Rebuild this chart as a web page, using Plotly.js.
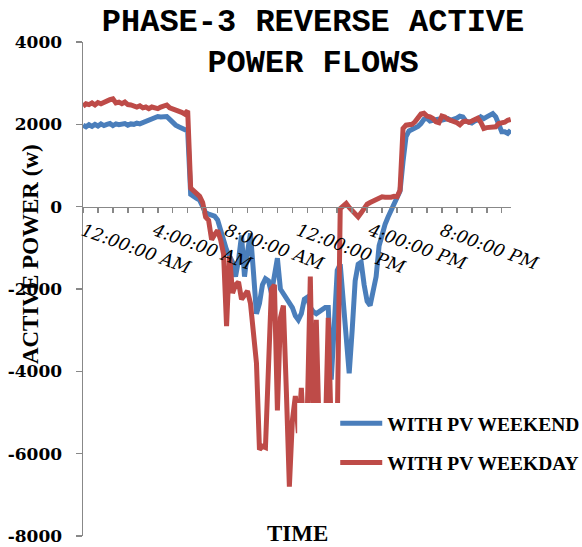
<!DOCTYPE html>
<html>
<head>
<meta charset="utf-8">
<script src="https://cdn.plot.ly/plotly-3.0.1.min.js"></script>
<style>html,body{margin:0;padding:0;background:#fff;}#chart{width:582px;height:547px;}</style>
</head>
<body>
<div id="chart"></div>
<script>
// time of day in hours, one sample every 10 minutes (144 samples)
const hours = Array.from({length: 144}, (_, i) => i / 6);

const tickHours = [0, 4, 8, 12, 16, 20];
const tickLabels = ["12:00:00 AM", "4:00:00 AM", "8:00:00 AM", "12:00:00 PM", "4:00:00 PM", "8:00:00 PM"];

const yTickVals = [-8000, -6000, -4000, -2000, 0, 2000, 4000];
const yTickText = ["-8000", "-6000", "-4000", "-2000", "0", "2000", "4000"];

const seriesNames = ["WITH PV WEEKEND", "WITH PV WEEKDAY"];

const weekend = [
  1980,1940,1990,1950,2000,1960,2010,1970,2000,2020,1970,2010,1990,2000,2020,1980,2010,2000,2030,2010,2040,2080,2100,2150,2190,2190,2180,2170,2190,2120,2030,1980,1940,1900,1880,1840,
  300,230,200,160,0,-150,-180,-200,
  -230,-320,-550,-850,-1050,-1200,-1350,-1700,-1300,-700,-1700,-1100,-650,-1600,-2600,-2350,-1900,-1750,-1800,-2100,-1700,-1250,
  -2000,-2100,-2200,-2300,-2450,-2650,-2750,-2600,-2250,-2200,-2450,-2550,-2600,-2550,-2500,-2450,-2450,
  -4200,-2900,-1550,-1400,-2200,-3300,-4050,-3000,-1800,-1400,-1350,-1900,-2300,-2400,-2100,-1700,-950,-650,-430,-250,-80,60,230,380,
  1100,1700,1840,1870,1920,1950,2020,2120,2150,2080,2100,2110,2130,2100,2110,2140,2100,2110,2150,2200,2180,2080,2040,2030,2080,2110,2180,2140,2180,2230,2260,2180,1950,1820,1820,1780,1860
];

const weekday = [
  2440,2500,2480,2520,2470,2530,2500,2540,2560,2600,2620,2520,2540,2500,2540,2480,2470,2440,2420,2450,2400,2420,2380,2420,2400,2380,2420,2440,2470,2400,2380,2350,2320,2290,2250,2330,
  450,380,330,250,100,
  -250,-330,-800,-680,-580,-800,-1150,-2900,-1200,-2100,-1900,-1830,-2250,-2150,-2050,-2350,-3000,-3800,-5900,-5820,-5850,-3900,-2000,-1900,-4950,-2700,-2400,-4500,-6800,
  -5200,-4600,-5500,-4400,-5800,-5000,-1700,-5600,-2750,-5600,-5300,-5600,-2700,-5500,-5500,-5400,
  -50,30,80,-20,-100,-200,-250,-150,-30,60,100,130,160,200,240,230,220,230,250,240,400,1900,1980,2000,2000,2060,2140,2250,2270,2200,2180,2140,2060,2040,2200,2180,2120,2100,2080,2040,1990,2060,2080,2050,2080,2120,2150,2050,1900,1920,1930,1960,1940,2020,2030,2050,2100,2120
];

const blue = "#4A7EBB";
const red = "#BE4B48";
const axisGray = "#888888";

const traces = [
  {x: hours, y: weekend, type: "scatter", mode: "lines", name: seriesNames[0],
   line: {color: blue, width: 5}, legendgroup: "a"},
  {x: hours, y: weekday, type: "scatter", mode: "lines", name: seriesNames[1],
   line: {color: red, width: 5}, legendgroup: "b"}
];

const layout = {
  width: 582, height: 547,
  margin: {l: 83, r: 71.4, t: 41.7, b: 11, pad: 0, autoexpand: false},
  paper_bgcolor: "#ffffff", plot_bgcolor: "#ffffff",
  showlegend: true,
  title: {
    text: "PHASE-3 REVERSE ACTIVE<br>POWER FLOWS",
    font: {family: "Liberation Mono, monospace", size: 32, color: "#000", weight: "bold"},
    x: 313 / 582, xref: "container", xanchor: "center",
    y: 0.944, yref: "container", yanchor: "top"
  },
  xaxis: {
    range: [0, 23.85],
    anchor: "free", position: 2 / 3,
    showline: true, linecolor: axisGray, linewidth: 1.5,
    showgrid: false, zeroline: false,
    tickmode: "array", tickvals: tickHours, ticktext: tickLabels,
    ticks: "outside", ticklen: 6, tickcolor: "rgba(0,0,0,0)",
    tickangle: 20,
    tickfont: {family: "DejaVu Serif", size: 17.5, color: "#000", style: "italic"},
    minor: {tickmode: "linear", tick0: 0, dtick: 5 / 6, ticks: "outside", ticklen: 5,
            tickcolor: axisGray, tickwidth: 1.5, showgrid: false}
  },
  yaxis: {
    range: [-8000, 4000],
    showline: true, linecolor: axisGray, linewidth: 1.5,
    showgrid: false, zeroline: false,
    tickmode: "array", tickvals: yTickVals, ticktext: yTickText,
    ticks: "outside", ticklen: 6, tickcolor: axisGray, tickwidth: 1.5,
    ticklabelstandoff: 10,
    tickfont: {family: "DejaVu Serif", size: 17, color: "#000", weight: "bold"}
  },
  legend: {
    x: (335 - 83) / 427.6, xanchor: "left",
    y: (536 - 404) / 494.3, yanchor: "top",
    bgcolor: "rgba(0,0,0,0)", borderwidth: 0,
    itemwidth: 42, traceorder: "grouped", tracegroupgap: 11,
    font: {family: "Liberation Serif", size: 19.5, color: "#000", weight: "bold"}
  },
  shapes: [{
    type: "rect", xref: "paper", yref: "paper", layer: "above",
    x0: (297 - 83) / 427.6, x1: (582 - 83) / 427.6,
    y0: (536 - 482) / 494.3, y1: (536 - 403) / 494.3,
    fillcolor: "#ffffff", line: {width: 0}
  }],
  annotations: [
    {text: "ACTIVE POWER (w)", textangle: -90, showarrow: false,
     xref: "paper", yref: "paper", x: (30 - 83) / 427.6, y: (536 - 254) / 494.3,
     xanchor: "center", yanchor: "middle",
     font: {family: "Liberation Serif", size: 23, color: "#000", weight: "bold"}},
    {text: "TIME", showarrow: false,
     xref: "paper", yref: "paper", x: 0.5005, y: (536 - 533) / 494.3,
     xanchor: "center", yanchor: "middle",
     font: {family: "Liberation Serif", size: 23, color: "#000", weight: "bold"}}
  ]
};

Plotly.newPlot("chart", traces, layout, {displayModeBar: false, staticPlot: true});
</script>
</body>
</html>
